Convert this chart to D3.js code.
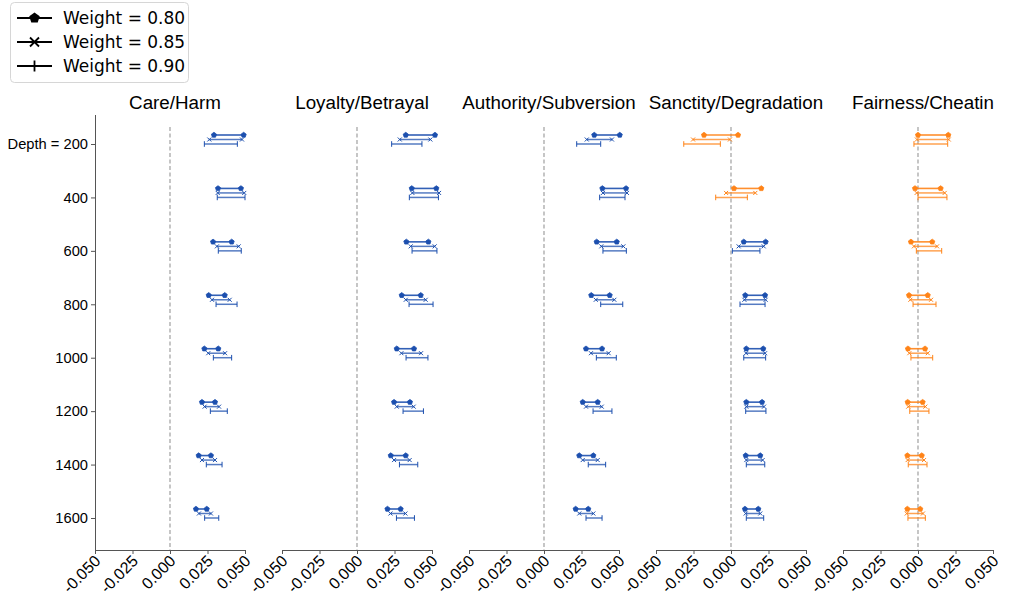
<!DOCTYPE html>
<html>
<head>
<meta charset="utf-8">
<script src="https://cdn.jsdelivr.net/npm/d3@7"></script>
<style>
  body { margin: 0; background: #fff; }
  svg { display: block; }
</style>
</head>
<body>
<svg id="chart" width="1009" height="599"></svg>
<script>
// depths shown on the y axis (top to bottom)
var depths = [200, 400, 600, 800, 1000, 1200, 1400, 1600];
var weights = ["0.80", "0.85", "0.90"];
var foundations = ["Care/Harm", "Loyalty/Betrayal", "Authority/Subversion", "Sanctity/Degradation", "Fairness/Cheatin"];
var xTicks = [-0.05, -0.025, 0, 0.025, 0.05];

// per depth: [lo, hi] for weight 0.80, 0.85, 0.90
var careHarm = [
  [[0.0293, 0.0491], [0.0262, 0.0480], [0.0229, 0.0449]],
  [[0.0320, 0.0473], [0.0318, 0.0495], [0.0315, 0.0500]],
  [[0.0287, 0.0411], [0.0313, 0.0458], [0.0322, 0.0475]],
  [[0.0258, 0.0365], [0.0280, 0.0398], [0.0307, 0.0447]],
  [[0.0229, 0.0322], [0.0255, 0.0367], [0.0289, 0.0411]],
  [[0.0213, 0.0300], [0.0231, 0.0327], [0.0269, 0.0382]],
  [[0.0191, 0.0273], [0.0213, 0.0300], [0.0242, 0.0347]],
  [[0.0173, 0.0245], [0.0193, 0.0273], [0.0231, 0.0325]]
];
var loyaltyBetrayal = [
  [[0.0325, 0.0520], [0.0285, 0.0489], [0.0231, 0.0433]],
  [[0.0365, 0.0529], [0.0369, 0.0547], [0.0349, 0.0543]],
  [[0.0329, 0.0476], [0.0358, 0.0518], [0.0367, 0.0533]],
  [[0.0298, 0.0425], [0.0325, 0.0458], [0.0347, 0.0507]],
  [[0.0265, 0.0380], [0.0296, 0.0427], [0.0327, 0.0473]],
  [[0.0247, 0.0353], [0.0265, 0.0378], [0.0307, 0.0443]],
  [[0.0225, 0.0325], [0.0247, 0.0351], [0.0283, 0.0405]],
  [[0.0203, 0.0291], [0.0223, 0.0323], [0.0263, 0.0383]]
];
var authoritySubversion = [
  [[0.0335, 0.0505], [0.0285, 0.0453], [0.0218, 0.0378]],
  [[0.0389, 0.0547], [0.0393, 0.0553], [0.0371, 0.0540]],
  [[0.0351, 0.0485], [0.0382, 0.0529], [0.0393, 0.0549]],
  [[0.0315, 0.0438], [0.0345, 0.0469], [0.0378, 0.0525]],
  [[0.0280, 0.0387], [0.0313, 0.0431], [0.0349, 0.0482]],
  [[0.0258, 0.0358], [0.0280, 0.0385], [0.0327, 0.0453]],
  [[0.0235, 0.0329], [0.0258, 0.0358], [0.0295, 0.0411]],
  [[0.0211, 0.0295], [0.0235, 0.0329], [0.0280, 0.0387]]
];
var sanctityDegradation = [
  [[-0.0180, 0.0047], [-0.0253, -0.0007], [-0.0315, -0.0071]],
  [[0.0020, 0.0202], [-0.0033, 0.0162], [-0.0102, 0.0109]],
  [[0.0085, 0.0231], [0.0051, 0.0218], [0.0009, 0.0193]],
  [[0.0095, 0.0227], [0.0089, 0.0231], [0.0060, 0.0227]],
  [[0.0102, 0.0215], [0.0100, 0.0227], [0.0085, 0.0231]],
  [[0.0102, 0.0207], [0.0102, 0.0220], [0.0098, 0.0233]],
  [[0.0098, 0.0195], [0.0102, 0.0211], [0.0102, 0.0225]],
  [[0.0093, 0.0182], [0.0098, 0.0195], [0.0102, 0.0218]]
];
var fairnessCheating = [
  [[0.0000, 0.0202], [-0.0007, 0.0205], [-0.0027, 0.0198]],
  [[-0.0020, 0.0151], [-0.0009, 0.0178], [0.0000, 0.0193]],
  [[-0.0047, 0.0095], [-0.0027, 0.0127], [-0.0011, 0.0158]],
  [[-0.0060, 0.0065], [-0.0051, 0.0087], [-0.0033, 0.0120]],
  [[-0.0067, 0.0047], [-0.0058, 0.0065], [-0.0047, 0.0098]],
  [[-0.0069, 0.0031], [-0.0065, 0.0049], [-0.0055, 0.0073]],
  [[-0.0071, 0.0025], [-0.0069, 0.0040], [-0.0065, 0.0060]],
  [[-0.0071, 0.0015], [-0.0075, 0.0033], [-0.0067, 0.0049]]
];
var panelData = [careHarm, loyaltyBetrayal, authoritySubversion, sanctityDegradation, fairnessCheating];

var blue = "#1c4fae", orange = "#ff8317";
var svg = d3.select("#chart");

var panelLeft = [95, 282, 469, 656, 843],
    panelW = 150,
    plotTop = 115,
    plotBottom = 550;

var y = d3.scalePoint().domain(depths).range([144, 518]);
var rowOffset = [-9, -4.5, 0];   // vertical nudge per weight
var fmt = d3.format(".3f");

// pentagon marker path
function pentagon(r) {
  var pts = d3.range(5).map(function(i) {
    var a = -Math.PI / 2 + i * 2 * Math.PI / 5;
    return [r * Math.cos(a), r * Math.sin(a)];
  });
  return "M" + pts.join("L") + "Z";
}

function drawMarker(g, kind, cx, cy, col) {
  if (kind === 0) {
    g.append("path").attr("d", pentagon(2.7))
      .attr("transform", "translate(" + cx + "," + cy + ")")
      .attr("fill", col).attr("stroke", col).attr("stroke-width", 0.8);
  } else if (kind === 1) {
    var s = 2;
    g.append("path")
      .attr("d", "M" + (cx - s) + "," + (cy - s) + "L" + (cx + s) + "," + (cy + s) +
                 "M" + (cx - s) + "," + (cy + s) + "L" + (cx + s) + "," + (cy - s))
      .attr("stroke", col).attr("stroke-width", 1).attr("fill", "none");
  } else {
    g.append("line").attr("x1", cx).attr("x2", cx).attr("y1", cy - 2.8).attr("y2", cy + 2.8)
      .attr("stroke", col).attr("stroke-width", 1);
  }
}

foundations.forEach(function(name, p) {
  var x = d3.scaleLinear().domain([-0.05, 0.05]).range([panelLeft[p], panelLeft[p] + panelW]);
  var g = svg.append("g");

  // title
  g.append("text")
    .attr("x", panelLeft[p] + panelW / 2 + 5).attr("y", 109)
    .attr("text-anchor", "middle")
    .style("font-family", "Liberation Sans, Arial, sans-serif")
    .style("font-size", "18.8px")
    .text(name);

  // zero reference
  g.append("line")
    .attr("x1", x(0)).attr("x2", x(0))
    .attr("y1", plotTop + 12).attr("y2", plotBottom)
    .attr("stroke", "#a0a0a0").attr("stroke-width", 1.2)
    .attr("stroke-dasharray", "4,2.5");

  // bottom axis
  var ax = g.append("g").attr("transform", "translate(0," + plotBottom + ")")
    .call(d3.axisBottom(x).tickValues(xTicks).tickSize(4)
      .tickFormat(function(d) { return fmt(d).replace("\u2212", "-"); }));
  ax.select(".domain").attr("stroke", "#555").attr("stroke-width", 1);
  ax.selectAll(".tick line").attr("stroke", "#555");
  ax.selectAll(".tick text")
    .style("font-family", "Liberation Sans, Arial, sans-serif")
    .style("font-size", "16px")
    .attr("fill", "#000")
    .attr("text-anchor", "end")
    .attr("dy", null)
    .attr("y", 0)
    .attr("transform", "translate(6,12) rotate(-45)");

  if (p === 0) {
    var ay = g.append("g").attr("transform", "translate(" + panelLeft[p] + ",0)")
      .call(d3.axisLeft(y).tickSize(4).tickFormat(function(d, i) { return i === 0 ? "Depth = " + d : d; }));
    ay.select(".domain").attr("stroke", "#555")
      .attr("d", "M0.5," + plotTop + "V" + plotBottom);
    ay.selectAll(".tick line").attr("stroke", "#555");
    ay.selectAll(".tick text")
      .style("font-family", "Liberation Sans, Arial, sans-serif")
      .style("font-size", "14.7px")
      .attr("fill", "#000");
  }

  // intervals
  panelData[p].forEach(function(row, i) {
    var crossesZero = row.some(function(iv) { return iv[0] <= 0 && iv[1] >= 0; });
    var col = crossesZero ? orange : blue;
    row.forEach(function(iv, w) {
      var cy = y(depths[i]) + rowOffset[w];
      g.append("line")
        .attr("x1", x(iv[0])).attr("x2", x(iv[1]))
        .attr("y1", cy).attr("y2", cy)
        .attr("stroke", col).attr("stroke-width", w === 0 ? 1.6 : 1.5)
        .attr("stroke-opacity", w === 0 ? 0.9 : 0.75);
      drawMarker(g, w, x(iv[0]), cy, col);
      drawMarker(g, w, x(iv[1]), cy, col);
    });
  });
});

// legend
var lg = svg.append("g");
lg.append("rect").attr("x", 10.5).attr("y", 2.5).attr("width", 178).attr("height", 80)
  .attr("rx", 4).attr("fill", "#fff").attr("stroke", "#d6d6d6");
weights.forEach(function(wt, w) {
  var ly = 18 + w * 24;
  lg.append("line").attr("x1", 17).attr("x2", 52).attr("y1", ly).attr("y2", ly)
    .attr("stroke", "#000").attr("stroke-width", 2);
  if (w === 0) {
    lg.append("path").attr("d", pentagon(5.5)).attr("transform", "translate(34.5," + ly + ")").attr("fill", "#000");
  } else if (w === 1) {
    lg.append("path")
      .attr("d", "M30," + (ly - 4.5) + "L39," + (ly + 4.5) + "M30," + (ly + 4.5) + "L39," + (ly - 4.5))
      .attr("stroke", "#000").attr("stroke-width", 1.8);
  } else {
    lg.append("line").attr("x1", 34.5).attr("x2", 34.5).attr("y1", ly - 5.5).attr("y2", ly + 5.5)
      .attr("stroke", "#000").attr("stroke-width", 1.8);
  }
  lg.append("text").attr("x", 63).attr("y", ly + 6.3)
    .style("font-family", "DejaVu Sans, sans-serif").style("font-size", "17px")
    .text("Weight = " + wt);
});
</script>
</body>
</html>
